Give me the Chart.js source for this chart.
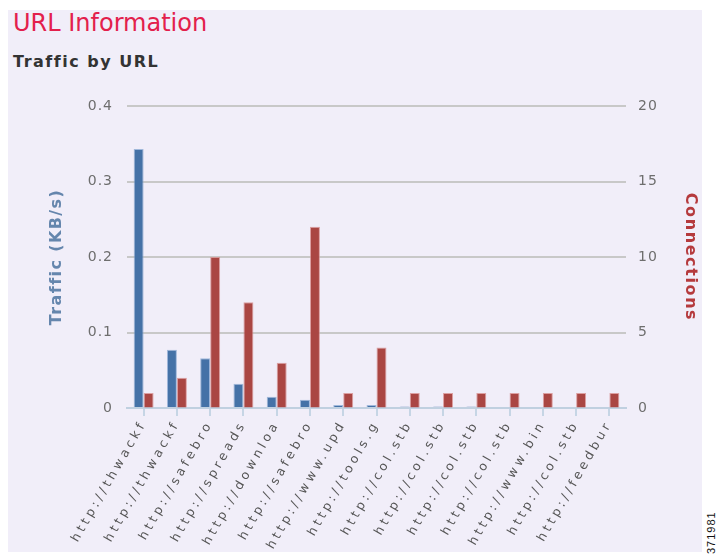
<!DOCTYPE html>
<html>
<head>
<meta charset="utf-8">
<script src="https://cdn.jsdelivr.net/npm/chart.js@4"></script>
<style>
  html, body { margin: 0; padding: 0; background: #fff; width: 718px; height: 554px; overflow: hidden; }
  #panel { position: absolute; left: 8px; top: 10px; width: 694px; height: 542px; background: #f1eef9; }
  #head { position: absolute; left: 13px; top: 11px; font: 24px "DejaVu Sans"; line-height: 24px; color: #e3204c; }
  #sub { position: absolute; left: 13px; top: 54px; font: bold 16px "DejaVu Sans"; line-height: 16px; letter-spacing: 1.5px; color: #333; }
  #code { position: absolute; left: 705px; top: 505px; font: 11px "Liberation Sans"; color: #111;
          transform-origin: 0 0; transform: translate(0, 49px) rotate(-90deg); letter-spacing: 1px; }
  #chart { position: absolute; left: 0; top: 0; }
</style>
</head>
<body>
<div id="panel"></div>
<div id="head">URL Information</div>
<div id="sub">Traffic by URL</div>
<div id="code">371981</div>
<canvas id="chart" width="718" height="554"></canvas>
<script>
// categories (URLs are cut at 14 characters in the original)
var urls = ["http://thwackf", "http://thwackf", "http://safebro", "http://spreads", "http://downloa",
            "http://safebro", "http://www.upd", "http://tools.g", "http://col.stb", "http://col.stb",
            "http://col.stb", "http://col.stb", "http://www.bin", "http://col.stb", "http://feedbur"];

// traffic in KB/s, left axis
var traffic = [0.343, 0.077, 0.066, 0.032, 0.015, 0.011, 0.004, 0.004, 0.002, 0.002, 0.002, 0, 0, 0, 0];

// number of connections, right axis
var connections = [1, 2, 10, 7, 3, 12, 1, 4, 1, 1, 1, 1, 1, 1, 1];

var trafficTicks = [0, 0.1, 0.2, 0.3, 0.4];
var connTicks = [0, 5, 10, 15, 20];

// canvas text has no css letter-spacing, so wrap the scale draw calls
var spacing = {
    x:  { drawLabels: '3.6px', drawTitle: '0px' },
    y:  { drawLabels: '1px', drawTitle: '1.4px' },
    y1: { drawLabels: '1px', drawTitle: '1.6px' }
};
var spacingPlugin = {
    id: 'spacing',
    afterUpdate: function (chart) {
        Object.keys(chart.scales).forEach(function (id) {
            var s = chart.scales[id];
            if (s._spaced) return;
            s._spaced = true;
            ['drawLabels', 'drawTitle'].forEach(function (fn) {
                var orig = s[fn];
                s[fn] = function () {
                    var ctx = this.ctx;
                    ctx.save();
                    ctx.letterSpacing = spacing[id][fn];
                    orig.apply(this, arguments);
                    ctx.restore();
                };
            });
        });
    }
};

new Chart(document.getElementById('chart'), {
    type: 'bar',
    data: {
        labels: urls,
        datasets: [{
            label: 'Traffic (KB/s)',
            data: traffic,
            yAxisID: 'y',
            backgroundColor: '#4572a7',
            borderColor: 'rgba(140,170,210,0.8)',
            borderWidth: 1,
            borderSkipped: 'bottom',
            categoryPercentage: 0.6,
            barPercentage: 1.0
        }, {
            label: 'Connections',
            data: connections,
            yAxisID: 'y1',
            backgroundColor: '#aa4643',
            borderColor: 'rgba(215,140,140,0.8)',
            borderWidth: 1,
            borderSkipped: 'bottom',
            categoryPercentage: 0.6,
            barPercentage: 1.0
        }]
    },
    options: {
        responsive: false,
        animation: false,
        layout: { padding: { top: 106, left: 0, right: 0, bottom: 0 } },
        plugins: { legend: { display: false }, tooltip: { enabled: false } },
        scales: {
            x: {
                afterFit: function (s) { s.height = 146; },
                grid: { offset: false, drawOnChartArea: false, drawTicks: true, tickLength: 8, color: '#c6d5e5', lineWidth: 2 },
                border: { color: '#c0d0e0', width: 2 },
                ticks: {
                    autoSkip: false, minRotation: 60, maxRotation: 60, padding: 2,
                    color: '#555', font: { family: 'DejaVu Sans', size: 12.5 }
                }
            },
            y: {
                position: 'left',
                min: 0, max: 0.4,
                afterFit: function (s) { s.width = 127; },
                afterBuildTicks: function (s) { s.ticks = trafficTicks.map(function (v) { return { value: v }; }); },
                grid: {
                    drawTicks: false, lineWidth: 2,
                    color: function (c) { return c.tick && c.tick.value === 0 ? 'rgba(0,0,0,0)' : '#c8c8c8'; }
                },
                border: { display: false },
                ticks: { padding: 14, color: '#6e6e6e', font: { family: 'DejaVu Sans', size: 14 } },
                title: {
                    display: true, text: 'Traffic (KB/s)', color: '#6586ad',
                    font: { family: 'DejaVu Sans', size: 16, weight: 'bold' },
                    padding: { top: 47, bottom: 0 }
                }
            },
            y1: {
                position: 'right',
                min: 0, max: 20,
                afterFit: function (s) { s.width = 92; },
                afterBuildTicks: function (s) { s.ticks = connTicks.map(function (v) { return { value: v }; }); },
                grid: { drawOnChartArea: false, drawTicks: false },
                border: { display: false },
                ticks: { padding: 12, color: '#6e6e6e', font: { family: 'DejaVu Sans', size: 14 } },
                title: {
                    display: true, text: 'Connections', color: '#b53a3d',
                    font: { family: 'DejaVu Sans', size: 16, weight: 'bold' },
                    padding: { top: 18, bottom: 0 }
                }
            }
        }
    },
    plugins: [spacingPlugin]
});
</script>
</body>
</html>
